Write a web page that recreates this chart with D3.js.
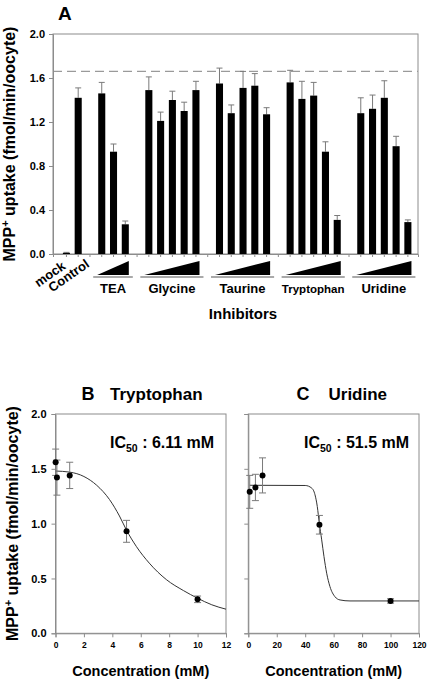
<!DOCTYPE html>
<html><head><meta charset="utf-8">
<script src="https://cdn.jsdelivr.net/npm/d3@7"></script>
<style>
body{margin:0;background:#fff}
svg{display:block}
text{font-family:"Liberation Sans",Arial,Helvetica,sans-serif;font-weight:bold;fill:#000}
</style>
</head><body>
<svg id="chart" width="430" height="684"></svg>
<script>
// ---------- Data: panel A (bar chart) ----------
const controlLabels = ["mock", "Control"];
const controlValues = [0.01, 1.42];
const controlErrors = [0.005, 0.09];

const groupNames = ["TEA", "Glycine", "Taurine", "Tryptophan", "Uridine"];
const teaValues = [1.46, 0.93, 0.27];
const teaErrors = [0.10, 0.07, 0.03];
const glycineValues = [1.49, 1.21, 1.40, 1.30, 1.49];
const glycineErrors = [0.12, 0.08, 0.08, 0.08, 0.08];
const taurineValues = [1.55, 1.28, 1.51, 1.53, 1.27];
const taurineErrors = [0.14, 0.075, 0.15, 0.11, 0.06];
const tryptophanValues = [1.56, 1.41, 1.44, 0.93, 0.31];
const tryptophanErrors = [0.11, 0.16, 0.12, 0.09, 0.04];
const uridineValues = [1.28, 1.32, 1.42, 0.98, 0.29];
const uridineErrors = [0.14, 0.125, 0.155, 0.09, 0.02];
const referenceLevel = 1.66;
const yTicksA = [0, 0.4, 0.8, 1.2, 1.6, 2.0];

// ---------- Data: panel B (Tryptophan) ----------
const tryConc = [0.01, 0.1, 1, 5, 10];
const tryUptake = [1.56, 1.42, 1.44, 0.93, 0.31];
const tryErr = [0.12, 0.16, 0.12, 0.10, 0.03];
const tryFitConc = [0, 1, 2, 2.9, 3.8, 4.5, 5, 5.7, 6.6, 7.8, 9, 10, 11, 12];
const tryFitUptake = [1.48, 1.47, 1.43, 1.35, 1.22, 1.07, 0.94, 0.79, 0.64, 0.49, 0.39, 0.32, 0.26, 0.22];
const tryIC50 = "6.11 mM";
const xTicksB = [0, 2, 4, 6, 8, 10, 12];

// ---------- Data: panel C (Uridine) ----------
const uriConc = [1, 5, 10, 50, 100];
const uriUptake = [1.29, 1.33, 1.44, 0.99, 0.295];
const uriErr = [0.15, 0.12, 0.16, 0.085, 0.02];
const uriFitConc = [1, 40, 44.6, 46.9, 48.5, 49.9, 51.6, 53.2, 55.1, 57.4, 60.9, 64.5, 71.5, 120];
const uriFitUptake = [1.35, 1.348, 1.324, 1.263, 1.156, 1.005, 0.852, 0.70, 0.548, 0.426, 0.334, 0.304, 0.295, 0.295];
const uriIC50 = "51.5 mM";
const xTicksC = [0, 20, 40, 60, 80, 100, 120];
const yTicksBC = [0, 0.5, 1.0, 1.5, 2.0];

const yLabel = "MPP";
const yLabelRest = " uptake (fmol/min/oocyte)";

// ---------- Build ----------
const svg = d3.select("#chart");
const GREY = "#8c8c8c";
const ERR = "#7a7a7a";

function styleAxis(g, fontSize) {
  g.select(".domain").attr("stroke", GREY).attr("stroke-width", 1);
  g.selectAll(".tick line").attr("stroke", GREY);
  g.selectAll(".tick text").attr("font-size", fontSize).attr("fill", "#000")
    .attr("font-family", "Liberation Sans, Arial, sans-serif").attr("font-weight", "bold");
}

function yAxisTitle(cx, cy) {
  const t = svg.append("text")
    .attr("transform", `translate(${cx},${cy}) rotate(-90)`)
    .attr("text-anchor", "middle").attr("font-size", 16);
  t.append("tspan").text(yLabel);
  t.append("tspan").text("+").attr("font-size", 11).attr("dy", -6);
  t.append("tspan").text(yLabelRest).attr("dy", 6);
}

// ----- Panel A -----
const slots = [];
controlLabels.forEach((l, i) => slots.push({label: l, value: controlValues[i], err: controlErrors[i], group: null}));
const groupData = [
  [teaValues, teaErrors], [glycineValues, glycineErrors], [taurineValues, taurineErrors],
  [tryptophanValues, tryptophanErrors], [uridineValues, uridineErrors]
];
groupNames.forEach((g, gi) => {
  slots.push({label: "gap" + gi, value: null});
  groupData[gi][0].forEach((v, j) => slots.push({label: g + j, value: v, err: groupData[gi][1][j], group: g}));
});

const xA = d3.scaleBand().domain(slots.map(s => s.label)).range([53, 418])
  .paddingInner(0.4).paddingOuter(0.7).align(0.6);
const yA = d3.scaleLinear().domain([0, 2]).range([254, 34]);

svg.append("rect").attr("x", 53).attr("y", 34).attr("width", 365).attr("height", 220)
  .attr("fill", "none").attr("stroke", GREY);

svg.append("line").attr("x1", 53).attr("x2", 418)
  .attr("y1", yA(referenceLevel)).attr("y2", yA(referenceLevel))
  .attr("stroke", "#9a9a9a").attr("stroke-width", 1.2).attr("stroke-dasharray", "9,5");

const gyA = svg.append("g").attr("transform", "translate(53,0)")
  .call(d3.axisLeft(yA).tickValues(yTicksA).tickFormat(d3.format(".1f")).tickSize(4).tickPadding(4));
styleAxis(gyA, 11);

const gxA = svg.append("g").attr("transform", "translate(0,254)")
  .call(d3.axisBottom(xA).tickSize(3).tickFormat(""));
styleAxis(gxA, 10);

const barSlots = slots.filter(s => s.value !== null);
const bw = xA.bandwidth();
svg.append("g").selectAll("line.err").data(barSlots).join("line")
  .attr("x1", d => xA(d.label) + bw / 2).attr("x2", d => xA(d.label) + bw / 2)
  .attr("y1", d => yA(d.value)).attr("y2", d => yA(d.value + d.err))
  .attr("stroke", ERR).attr("stroke-width", 1);
svg.append("g").selectAll("line.cap").data(barSlots).join("line")
  .attr("x1", d => xA(d.label) + bw / 2 - 3).attr("x2", d => xA(d.label) + bw / 2 + 3)
  .attr("y1", d => yA(d.value + d.err)).attr("y2", d => yA(d.value + d.err))
  .attr("stroke", ERR).attr("stroke-width", 1);
svg.append("g").selectAll("rect").data(barSlots).join("rect")
  .attr("x", d => xA(d.label)).attr("width", bw)
  .attr("y", d => yA(d.value)).attr("height", d => yA(0) - yA(d.value))
  .attr("fill", "#000");

// control labels (rotated)
const ctrlDx = [0, 12], ctrlY = [268, 266];
controlLabels.forEach((l, i) => {
  svg.append("text").text(l).attr("font-size", 13).attr("text-anchor", "end")
    .attr("transform", `translate(${xA(l) + bw / 2 + ctrlDx[i]},${ctrlY[i]}) rotate(-35)`);
});

// wedges & group labels
groupNames.forEach((g, gi) => {
  const n = groupData[gi][0].length;
  const x0 = xA(g + 0) - 1, x1 = xA(g + (n - 1)) + bw;
  svg.append("path").attr("d", `M${x0},275 L${x1},275 L${x1},261 Z`).attr("fill", "#000");
  svg.append("line").attr("x1", x0 - 4).attr("x2", x1 + 4).attr("y1", 277).attr("y2", 277)
    .attr("stroke", "#555").attr("stroke-width", 1.2);
  svg.append("text").text(g).attr("x", (x0 + x1) / 2).attr("y", 293)
    .attr("text-anchor", "middle").attr("font-size", g === "Tryptophan" ? 11.5 : 13);
});
svg.append("text").text("Inhibitors").attr("x", 243).attr("y", 319)
  .attr("text-anchor", "middle").attr("font-size", 15);
svg.append("text").text("A").attr("x", 58).attr("y", 19.5).attr("font-size", 19);
yAxisTitle(15, 144);

// ----- Panels B & C -----
function dosePanel(opt) {
  const x = d3.scaleLinear().domain(opt.xDomain).range(opt.xRange);
  const y = d3.scaleLinear().domain([0, 2]).range([633.3, 414]);
  svg.append("rect").attr("x", opt.xRange[0]).attr("y", 414)
    .attr("width", opt.xRange[1] - opt.xRange[0]).attr("height", 633.3 - 414)
    .attr("fill", "none").attr("stroke", GREY);
  const gy = svg.append("g").attr("transform", `translate(${opt.xRange[0]},0)`)
    .call(d3.axisLeft(y).tickValues(yTicksBC).tickSize(4).tickPadding(5)
      .tickFormat(opt.yLabels ? d3.format(".1f") : ""));
  styleAxis(gy, 11);
  const gx = svg.append("g").attr("transform", "translate(0,633.3)")
    .call(d3.axisBottom(x).tickValues(opt.xTicks).tickSize(4).tickPadding(5).tickFormat(d3.format("d")));
  styleAxis(gx, 8.5);

  const line = d3.line().x(d => x(d[0])).y(d => y(d[1])).curve(d3.curveMonotoneX);
  svg.append("path").attr("d", line(d3.zip(opt.fitX, opt.fitY)))
    .attr("fill", "none").attr("stroke", "#333").attr("stroke-width", 1);

  const pts = d3.zip(opt.conc, opt.uptake, opt.err);
  const g = svg.append("g");
  pts.forEach(([c, v, e]) => {
    const px = x(c);
    g.append("line").attr("x1", px).attr("x2", px).attr("y1", y(v - e)).attr("y2", y(v + e))
      .attr("stroke", ERR).attr("stroke-width", 1);
    [v - e, v + e].forEach(t => g.append("line").attr("x1", px - 3.5).attr("x2", px + 3.5)
      .attr("y1", y(t)).attr("y2", y(t)).attr("stroke", ERR).attr("stroke-width", 1));
  });
  g.selectAll("circle").data(pts).join("circle")
    .attr("cx", d => x(d[0])).attr("cy", d => y(d[1])).attr("r", 3).attr("fill", "#000");

  const mid = (opt.xRange[0] + opt.xRange[1]) / 2;
  svg.append("text").text("Concentration (mM)").attr("x", mid).attr("y", 676)
    .attr("text-anchor", "middle").attr("font-size", 14.5);
  svg.append("text").text(opt.letter).attr("x", opt.letterX).attr("y", 400).attr("font-size", 18);
  svg.append("text").text(opt.title).attr("x", opt.titleX).attr("y", 400).attr("font-size", 17);
  const ic = svg.append("text").attr("x", opt.icX).attr("y", 448).attr("font-size", 16);
  ic.append("tspan").text("IC");
  ic.append("tspan").text("50").attr("font-size", 10.5).attr("dy", 4);
  ic.append("tspan").text(" : " + opt.ic50).attr("dy", -4);
}

dosePanel({xDomain: [0, 12], xRange: [55.5, 226], xTicks: xTicksB, yLabels: true,
  conc: tryConc, uptake: tryUptake, err: tryErr, fitX: tryFitConc, fitY: tryFitUptake,
  letter: "B", letterX: 81.5, title: "Tryptophan", titleX: 110, icX: 110, ic50: tryIC50});
dosePanel({xDomain: [0, 120], xRange: [248.3, 419], xTicks: xTicksC, yLabels: false,
  conc: uriConc, uptake: uriUptake, err: uriErr, fitX: uriFitConc, fitY: uriFitUptake,
  letter: "C", letterX: 296.5, title: "Uridine", titleX: 328.5, icX: 304, ic50: uriIC50});
yAxisTitle(18, 523.5);
</script>
</body></html>
